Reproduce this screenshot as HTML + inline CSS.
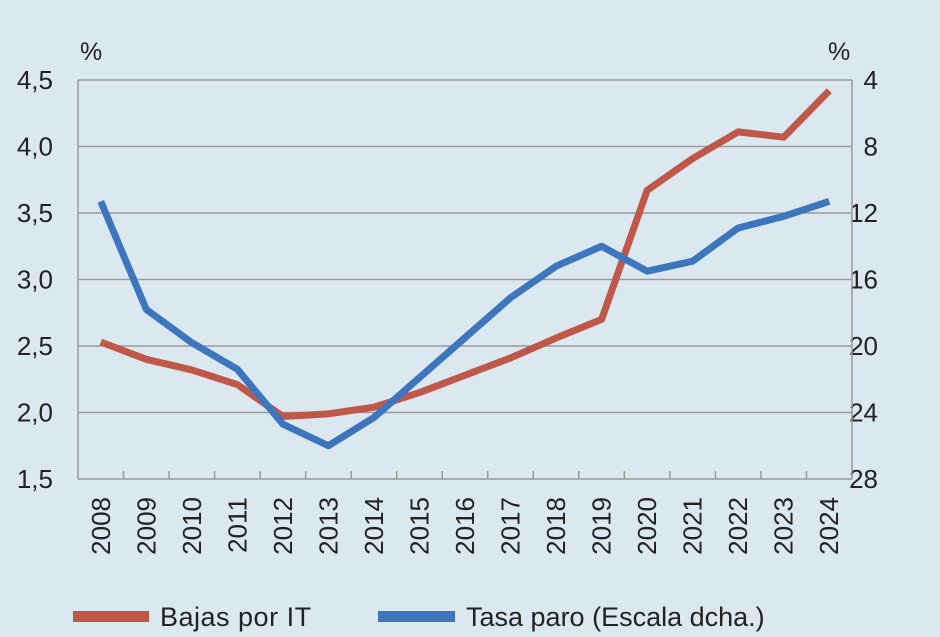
<!DOCTYPE html>
<html><head><meta charset="utf-8"><style>
body{margin:0;background:#dce8ef;}
svg{display:block;font-family:"Liberation Sans",sans-serif;}
</style></head><body>
<svg width="940" height="637" id="c">
<rect width="940" height="637" fill="#dce8ef"/>
</svg>
<script>
const years=["2008","2009","2010","2011","2012","2013","2014","2015","2016","2017","2018","2019","2020","2021","2022","2023","2024"];
const bajasIT=[2.53,2.40,2.32,2.21,1.97,1.99,2.04,2.15,2.28,2.41,2.56,2.70,3.67,3.91,4.11,4.07,4.42];
const tasaParo=[11.3,17.8,19.8,21.4,24.7,26.0,24.3,21.9,19.5,17.1,15.2,14.0,15.5,14.9,12.9,12.2,11.3];
const leftTicks=["1,5","2,0","2,5","3,0","3,5","4,0","4,5"];
const leftVals=[1.5,2.0,2.5,3.0,3.5,4.0,4.5];
const rightTicks=["4","8","12","16","20","24","28"];
const rightVals=[4,8,12,16,20,24,28];
const NS="http://www.w3.org/2000/svg";
const svg=document.getElementById('c');
const L=78,R=852,T=80,B=479;
const bw=(R-L)/years.length;
const x=i=>L+bw*(i+0.5);
const yL=v=>B-(v-1.5)/3*(B-T);
const yR=v=>T+(v-4)/24*(B-T);
function mk(tag,attrs,txt){const e=document.createElementNS(NS,tag);for(const k in attrs)e.setAttribute(k,attrs[k]);if(txt!==undefined)e.textContent=txt;svg.appendChild(e);return e;}
leftVals.forEach((v,i)=>{
 const g=mk('line',{x1:L,x2:R,y1:yL(v),y2:yL(v),stroke:'#999','stroke-width':1.5});
 
 
 const t=mk('text',{x:53,y:yL(v)+9,'font-size':26,fill:'#222','text-anchor':'end'},leftTicks[i]);
 
 
});
rightVals.forEach((v,i)=>{
 const t=mk('text',{x:878,y:yR(v)+9,'font-size':26,fill:'#222','text-anchor':'end'},rightTicks[i]);
 
 
});
let a=mk('line',{x1:L,x2:L,y1:T,y2:B,stroke:'#999','stroke-width':1.5});

a=mk('line',{x1:R,x2:R,y1:T,y2:B,stroke:'#999','stroke-width':1.5});

for(let i=1;i<years.length;i++){
 const tk=mk('line',{x1:L+bw*i,x2:L+bw*i,y1:B,y2:B-8,stroke:'#999','stroke-width':1.5});
 
 
}
years.forEach((yr,i)=>{
 const t=mk('text',{transform:`translate(${x(i)+9},497) rotate(-90)`,'font-size':26,fill:'#222','text-anchor':'end'},yr);
 
 
});
let u=mk('text',{x:80,y:60,'font-size':25,fill:'#222'},'%');

u=mk('text',{x:828,y:60,'font-size':25,fill:'#222'},'%');

const p1=mk('polyline',{points:bajasIT.map((v,i)=>x(i)+','+yL(v)).join(' '),fill:'none',stroke:'#c0584a','stroke-width':7,'stroke-linejoin':'round'});


const p2=mk('polyline',{points:tasaParo.map((v,i)=>x(i)+','+yR(v)).join(' '),fill:'none',stroke:'#3d76bd','stroke-width':7,'stroke-linejoin':'round'});


let l=mk('rect',{x:73,y:611,width:76,height:11,fill:'#c0584a'});

l=mk('text',{x:160,y:626,'font-size':27,fill:'#222','letter-spacing':0.5},'Bajas por IT');

l=mk('rect',{x:378,y:611,width:77,height:11,fill:'#3d76bd'});

l=mk('text',{x:466,y:626,'font-size':27,fill:'#222'},'Tasa paro (Escala dcha.)');

</script>
</body></html>
